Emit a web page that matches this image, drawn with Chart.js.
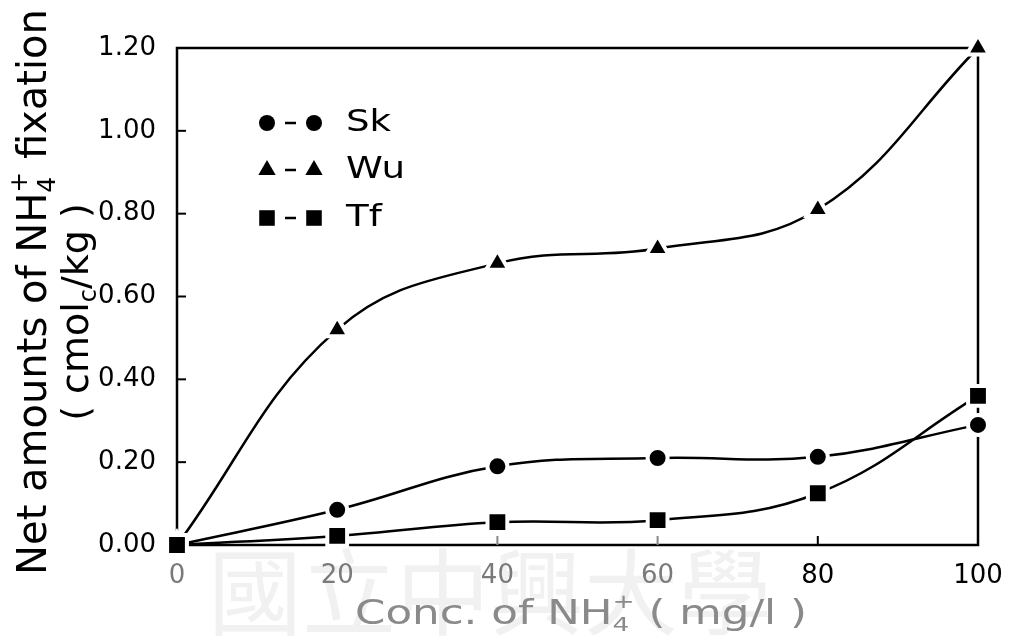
<!DOCTYPE html>
<html>
<head>
<meta charset="utf-8">
<script src="https://cdn.jsdelivr.net/npm/chart.js@4.4.1/dist/chart.umd.min.js"></script>
<style>
  html, body { margin: 0; padding: 0; background: #fff; }
</style>
</head>
<body>
<canvas id="grafico" width="1020" height="644"></canvas>
<script>
// concentração de NH4+ (mg/l)
const concentracoes = [0, 20, 40, 60, 80, 100];
// fixação líquida (cmolc/kg)
const valoresSk = [0, 0.085, 0.19, 0.21, 0.213, 0.29];
const valoresWu = [0, 0.52, 0.68, 0.716, 0.81, 1.20];
const valoresTf = [0, 0.022, 0.055, 0.06, 0.125, 0.36];
const nomesSeries = ['Sk', 'Wu', 'Tf'];
const ticksY = [0, 0.2, 0.4, 0.6, 0.8, 1.0, 1.2];
const ticksX = [0, 20, 40, 60, 80, 100];
const marcaDagua = '國立中興大學';

const fonte = '"DejaVu Sans", sans-serif';

// desenha texto com partes sub/sobrescritas, centrado em (0,0)
function textoRico(ctx, partes, tam, esticar) {
  const pequeno = Math.round(tam * 0.62);
  let largura = 0;
  const medidas = partes.map(p => {
    if (p.pilha) {
      ctx.font = pequeno + 'px ' + fonte;
      const w = Math.max(ctx.measureText(p.sub).width, ctx.measureText(p.sup).width);
      largura += w;
      return w;
    }
    if (p.sub) {
      ctx.font = pequeno + 'px ' + fonte;
      const w = ctx.measureText(p.sub).width;
      largura += w;
      return w;
    }
    ctx.font = tam + 'px ' + fonte;
    const w = ctx.measureText(p.t).width;
    largura += w;
    return w;
  });
  ctx.save();
  ctx.scale(esticar || 1, 1);
  ctx.textBaseline = 'alphabetic';
  ctx.textAlign = 'left';
  let x = -largura / 2;
  const base = tam * 0.36;
  partes.forEach((p, i) => {
    if (p.pilha) {
      ctx.font = pequeno + 'px ' + fonte;
      ctx.fillText(p.sub, x, base + tam * 0.22);
      ctx.fillText(p.sup, x, base - tam * 0.48);
    } else if (p.sub) {
      ctx.font = pequeno + 'px ' + fonte;
      ctx.fillText(p.sub, x, base + tam * 0.22);
    } else {
      ctx.font = tam + 'px ' + fonte;
      ctx.fillText(p.t, x, base);
    }
    x += medidas[i];
  });
  ctx.restore();
}

const molduraPlugin = {
  id: 'moldura',
  beforeDraw(chart) {
    const ctx = chart.ctx;
    ctx.save();
    ctx.fillStyle = '#fff';
    ctx.fillRect(0, 0, chart.width, chart.height);
    // marca d'água
    ctx.fillStyle = '#f1f1f1';
    ctx.font = '94px "Noto Sans CJK TC"';
    ctx.textAlign = 'center';
    ctx.textBaseline = 'middle';
    ctx.fillText(marcaDagua, 490, 592);
    ctx.restore();
  },
  beforeDatasetsDraw(chart) {
    const { ctx, chartArea: a, scales } = chart;
    ctx.save();
    ctx.strokeStyle = '#000';
    ctx.lineWidth = 2.5;
    ctx.strokeRect(a.left, a.top, a.right - a.left, a.bottom - a.top);
    ctx.lineWidth = 2;
    ticksY.slice(1, -1).forEach(v => {
      const y = scales.y.getPixelForValue(v);
      ctx.beginPath();
      ctx.moveTo(a.left, y);
      ctx.lineTo(a.left + 9, y);
      ctx.stroke();
    });
    ticksX.slice(1, -1).forEach(v => {
      const x = scales.x.getPixelForValue(v);
      ctx.strokeStyle = v <= 60 ? '#888' : '#000';
      ctx.beginPath();
      ctx.moveTo(x, a.bottom);
      ctx.lineTo(x, a.bottom - 9);
      ctx.stroke();
    });
    ctx.restore();
  },
  afterDraw(chart) {
    const ctx = chart.ctx;
    ctx.save();
    // título eixo y
    ctx.fillStyle = '#000';
    ctx.translate(32, 292);
    ctx.rotate(-Math.PI / 2);
    textoRico(ctx, [
      { t: 'Net amounts of NH' }, { pilha: true, sub: '4', sup: '+' }, { t: ' fixation' }
    ], 40, 1);
    ctx.restore();
    ctx.save();
    ctx.translate(74, 312);
    ctx.rotate(-Math.PI / 2);
    textoRico(ctx, [
      { t: '( cmol' }, { sub: 'c' }, { t: '/kg )' }
    ], 38, 1);
    ctx.restore();
    // título eixo x
    ctx.save();
    ctx.fillStyle = '#8a8a8a';
    ctx.translate(581, 612);
    textoRico(ctx, [
      { t: 'Conc. of NH' }, { pilha: true, sub: '4', sup: '+' }, { t: ' ( mg/l )' }
    ], 33, 1.32);
    ctx.restore();
    // legenda
    const { ctx: c } = chart;
    c.save();
    const linhas = [123, 170, 218];
    chart.data.datasets.forEach(ds => {
      const i = nomesSeries.indexOf(ds.label);
      const y = linhas[i];
      const estilo = { pointStyle: ds.pointStyle, radius: ds.legendaRaio, rotation: 0, borderWidth: 0 };
      c.fillStyle = '#000';
      c.strokeStyle = '#000';
      Chart.helpers.drawPoint(c, estilo, 267, y);
      Chart.helpers.drawPoint(c, estilo, 314, y);
      c.lineWidth = 2.5;
      c.beginPath();
      c.moveTo(285, y);
      c.lineTo(296, y);
      c.stroke();
      c.save();
      c.translate(346, y);
      c.scale(1.2, 1);
      c.font = '31px ' + fonte;
      c.textAlign = 'left';
      c.textBaseline = 'middle';
      c.fillText(ds.label, 0, 0);
      c.restore();
    });
    c.restore();
  }
};

function serie(nome, valores, estilo, raio, raioLegenda, ordem) {
  return {
    label: nome,
    data: concentracoes.map((x, i) => ({ x, y: valores[i] })),
    borderColor: '#000',
    borderWidth: 2.5,
    tension: 0.4,
    pointStyle: estilo,
    pointRadius: raio,
    pointBackgroundColor: '#000',
    pointBorderColor: '#fff',
    pointBorderWidth: 4,
    legendaRaio: raioLegenda,
    order: ordem,
    clip: false
  };
}

new Chart(document.getElementById('grafico'), {
  type: 'line',
  data: {
    datasets: [
      serie(nomesSeries[0], valoresSk, 'circle', 10, 8, 1),
      serie(nomesSeries[1], valoresWu, 'triangle', 13, 10, 2),
      serie(nomesSeries[2], valoresTf, 'rect', 14, 11, 0)
    ]
  },
  options: {
    responsive: false,
    animation: false,
    devicePixelRatio: 1,
    layout: { padding: { top: 48, right: 42, left: 0, bottom: 0 } },
    plugins: { legend: { display: false }, tooltip: { enabled: false } },
    scales: {
      x: {
        type: 'linear',
        min: 0,
        max: 100,
        afterFit: s => { s.height = 99; },
        afterBuildTicks: s => { s.ticks = ticksX.map(v => ({ value: v })); },
        grid: { display: false },
        border: { display: false },
        ticks: {
          padding: 8,
          font: { family: fonte, size: 26 },
          color: c => (c.tick && c.tick.value <= 60 ? '#7a7a7a' : '#000')
        }
      },
      y: {
        min: 0,
        max: 1.2,
        afterFit: s => { s.width = 177; },
        afterBuildTicks: s => { s.ticks = ticksY.map(v => ({ value: v })); },
        grid: { display: false },
        border: { display: false },
        ticks: {
          padding: 13,
          font: { family: fonte, size: 26 },
          color: '#000',
          callback: v => Number(v).toFixed(2)
        }
      }
    }
  },
  plugins: [molduraPlugin]
});
</script>
</body>
</html>
